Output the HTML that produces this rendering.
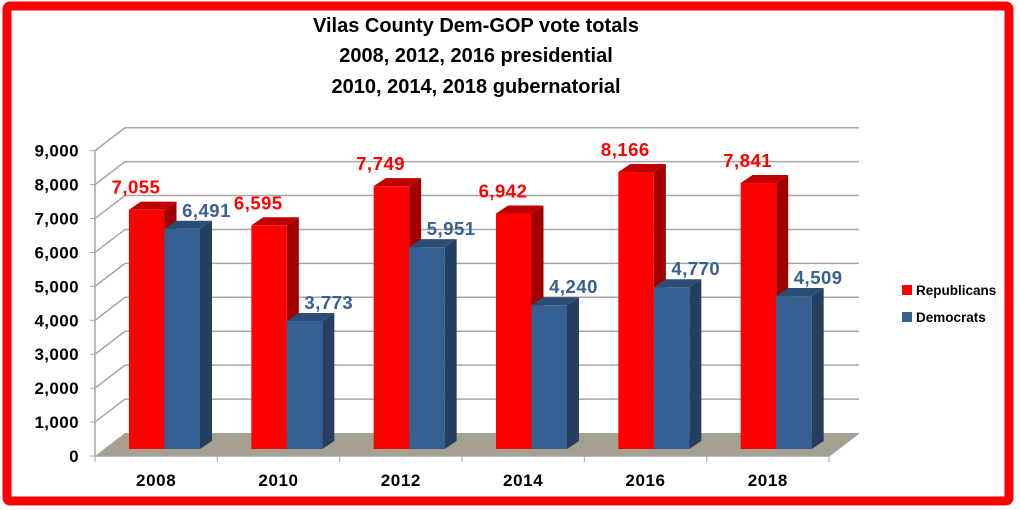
<!DOCTYPE html>
<html><head><meta charset="utf-8"><style>
html,body{margin:0;padding:0;background:#fff;}
svg{display:block;font-family:"Liberation Sans",Arial,sans-serif;font-weight:bold;}
</style></head><body>
<svg id="chart" width="1020" height="510" viewBox="0 0 1020 510" xmlns="http://www.w3.org/2000/svg">
<rect x="7" y="6" width="1002" height="495" fill="#fff" stroke="#ff0000" stroke-width="9" rx="3"/>
<g font-size="20" text-anchor="middle" fill="#000">
<text x="476" y="32">Vilas County Dem-GOP vote totals</text>
<text x="476" y="62">2008, 2012, 2016 presidential</text>
<text x="476" y="93">2010, 2014, 2018 gubernatorial</text>
</g>
<g id="walls"></g>
<g id="bars"></g>
<g id="labels"></g>
<g font-size="13.5" fill="#000">
<rect x="902" y="285" width="10" height="10" fill="#ff0000"/>
<text x="916" y="295">Republicans</text>
<rect x="902" y="312" width="10" height="10" fill="#376092"/>
<text x="916" y="322">Democrats</text>
</g>
</svg>
<script>
const categories=["2008","2010","2012","2014","2016","2018"];
const republicans=[7055,6595,7749,6942,8166,7841];
const democrats=[6491,3773,5951,4240,4770,4509];
const yTicks=[0,1000,2000,3000,4000,5000,6000,7000,8000,9000];
const yTickLabels=["0","1,000","2,000","3,000","4,000","5,000","6,000","7,000","8,000","9,000"];

const NS="http://www.w3.org/2000/svg";
const X0=95,X1=829,DX=30,DY=-23,Y0=456,YTOP=150.7;
const K=(Y0-YTOP)/9000;
const yFront=v=>Y0-v*K;
const step=(X1-X0)/categories.length;
function mk(tag,attrs,parent){const e=document.createElementNS(NS,tag);for(const k in attrs)e.setAttribute(k,attrs[k]);parent.appendChild(e);return e;}
const walls=document.getElementById('walls'),bars=document.getElementById('bars'),labels=document.getElementById('labels');
const floor=mk('polygon',{points:`${X0},${Y0} ${X1},${Y0} ${X1+DX},${Y0+DY} ${X0+DX},${Y0+DY}`,fill:'#a5a08f'},walls);


yTicks.forEach((t,i)=>{
  const y=yFront(t);
  if(t>0){
    const g=mk('polyline',{points:`${X0},${y} ${X0+DX},${y+DY} ${X1+DX},${y+DY}`,fill:'none',stroke:'#a6a6a6','stroke-width':1.5},walls);
    
    
  }
  const tk=mk('line',{x1:X0-5,y1:y,x2:X0,y2:y,stroke:'#a6a6a6'},walls);
  
  
  const tx=mk('text',{x:X0-16,y:y+6,'text-anchor':'end','font-size':17,'letter-spacing':0.4,fill:'#000'},walls);
  tx.textContent=yTickLabels[i];
  
  
});
const ax=mk('polyline',{points:`${X0+DX},${YTOP+DY} ${X0},${YTOP} ${X0},${Y0} ${X1},${Y0} ${X1+DX},${Y0+DY}`,fill:'none',stroke:'#a6a6a6','stroke-width':1.5},walls);


for(let i=0;i<=categories.length;i++){
  const x=X0+i*step;
  const t=mk('line',{x1:x,y1:Y0,x2:x,y2:Y0+6,stroke:'#a6a6a6'},walls);
  
  
}
const BW=35.5,BDX=12,BDY=-8,BASE=449,BK=K;
function bar(x,v,front,side,top,name){
  const yt=BASE-v*BK;
  const g=mk('g',{},bars);
  
  
  mk('polygon',{points:`${x+BW},${BASE} ${x+BW+BDX},${BASE+BDY} ${x+BW+BDX},${yt+BDY} ${x+BW},${yt}`,fill:side},g);
  mk('polygon',{points:`${x},${yt} ${x+BDX},${yt+BDY} ${x+BW+BDX},${yt+BDY} ${x+BW},${yt}`,fill:top},g);
  mk('rect',{x:x,y:yt,width:BW,height:BASE-yt,fill:front},g);
  return yt;
}
categories.forEach((c,i)=>{
  const xr=X0+i*step+34;
  const yr=bar(xr,republicans[i],'#ff0000','#a00000','#c00000','bar-republicans-'+c);
  const yd=bar(xr+BW,democrats[i],'#376092','#243f60','#2c4d75','bar-democrats-'+c);
  const lr=mk('text',{x:xr+7,y:yr-16,'text-anchor':'middle','font-size':18.5,'letter-spacing':0.5,fill:'#ff0000'},labels);
  lr.textContent=republicans[i].toLocaleString('en-US');
  
  
  const ld=mk('text',{x:xr+BW+42,y:yd-12,'text-anchor':'middle','font-size':18.5,'letter-spacing':0.5,fill:'#376092'},labels);
  ld.textContent=democrats[i].toLocaleString('en-US');
  
  
  const cl=mk('text',{x:X0+(i+0.5)*step,y:486,'text-anchor':'middle','font-size':17,'letter-spacing':0.6,fill:'#000'},labels);
  cl.textContent=c;
  
  
});
</script>
</body></html>
